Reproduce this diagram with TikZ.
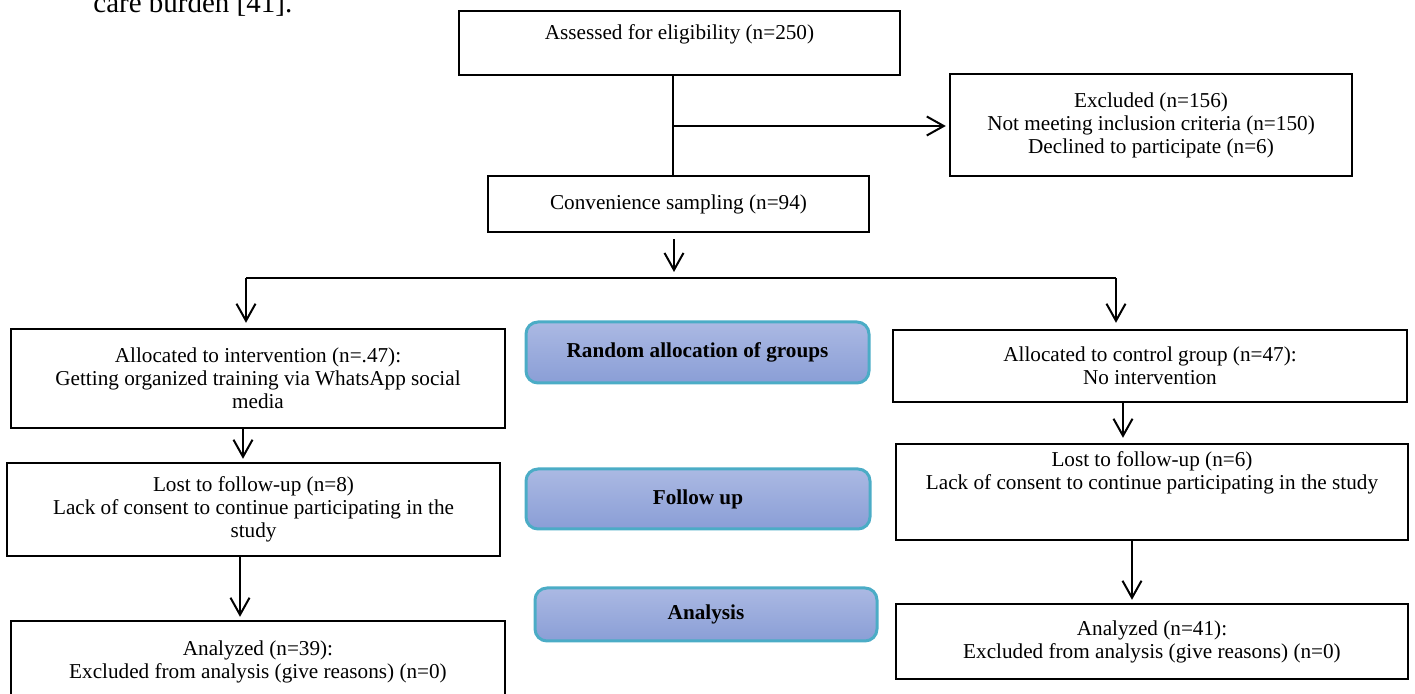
\documentclass[tikz,border=0pt]{standalone}
\usepackage{fontspec}
\setmainfont{Liberation Serif}
\usepackage{xcolor}
\definecolor{stagetop}{RGB}{171,185,227}
\definecolor{stagebottom}{RGB}{138,158,214}
\definecolor{stageedge}{RGB}{75,172,198}
\usetikzlibrary{arrows.meta, positioning}

\tikzset{
  box/.style={draw, line width=1.2pt, inner sep=0pt, align=center,
    font=\fontsize{10.6}{11.5}\selectfont},
  stagebox/.style={draw=stageedge, line width=1.5pt, rounded corners=6pt,
    top color=stagetop, bottom color=stagebottom, inner sep=0pt,
    font=\fontsize{10.6}{11.5}\selectfont\bfseries},
  link/.style={line width=1pt},
  flow/.style={line width=1pt, -{Straight Barb[length=8.5pt,width=9.5pt,line width=1pt]}}
}

\begin{document}
\begin{tikzpicture}[x=0.5pt, y=-0.5pt]
  \useasboundingbox (0,0) rectangle (1415,694);

  % Text of the page above the chart
  \node[anchor=base west, inner sep=0pt, font=\fontsize{14.5}{17}\selectfont] (pagetext) at (93,13) {care burden [41].};

  % Enrolment
  \node[box, minimum width=220.5pt, minimum height=32pt] (assess) at (679.5,43)
       {Assessed for eligibility (n=250)\\[-1pt]\mbox{}};
  \node[box, minimum width=201pt, minimum height=51pt] (excl) at (1151,125)
       {Excluded (n=156)\\Not meeting inclusion criteria (n=150)\\Declined to participate (n=6)};
  \node[box, minimum width=190.5pt, minimum height=28pt] (conv) at (678.5,204)
       {Convenience sampling (n=94)};

  % Stages
  \node[stagebox, minimum width=171.5pt, minimum height=30.5pt] (randalloc) at (697.5,352.5)
       {Random allocation of groups};
  \node[stagebox, minimum width=172pt, minimum height=30pt] (followup) at (698,499) {Follow up};
  \node[stagebox, minimum width=171pt, minimum height=26.5pt] (analysis) at (706,614.5) {Analysis};

  % Intervention arm
  \node[box, minimum width=247pt, minimum height=49.5pt] (intv) at (258,378.5)
       {Allocated to intervention (n=.47):\\Getting organized training via WhatsApp social\\media};
  \node[box, minimum width=246.5pt, minimum height=46.5pt] (lostI) at (253.5,509.5)
       {Lost to follow-up (n=8)\\Lack of consent to continue participating in the\\study};
  \node[box, minimum width=247pt, minimum height=40.5pt] (anaI) at (258,661.5)
       {Analyzed (n=39):\\Excluded from analysis (give reasons) (n=0)};

  % Control arm
  \node[box, minimum width=257pt, minimum height=36pt] (ctrl) at (1150,366)
       {Allocated to control group (n=47):\\No intervention};
  \node[box, minimum width=256pt, minimum height=48pt] (lostC) at (1152,492)
       {Lost to follow-up (n=6)\\Lack of consent to continue participating in the study\\[10pt]\mbox{}};
  \node[box, minimum width=256pt, minimum height=37.5pt] (anaC) at (1152,641.5)
       {Analyzed (n=41):\\Excluded from analysis (give reasons) (n=0)};

  % Connectors
  \coordinate (trunk) at (673,126);
  \coordinate (split) at (674,278);
  \coordinate (splitL) at (246,278);
  \coordinate (splitR) at (1116,278);
  \coordinate (colIa) at (243,0);
  \coordinate (colIb) at (240,0);
  \coordinate (colCa) at (1123,0);
  \coordinate (colCb) at (1132,0);

  \draw[link] (assess.south -| trunk) -- (conv.north -| trunk);
  \draw[flow] (trunk) -- ([xshift=-1.5pt]excl.west |- trunk);
  \draw[flow] ([yshift=-3pt]conv.south -| split) -- ([yshift=3pt]split);
  \draw[link] (splitL) -- (splitR);
  \draw[flow] (splitL) -- ([yshift=2.5pt]intv.north -| splitL);
  \draw[flow] (splitR) -- ([yshift=3pt]ctrl.north -| splitR);
  \draw[flow] (intv.south -| colIa) -- ([yshift=1.5pt]lostI.north -| colIa);
  \draw[flow] (lostI.south -| colIb) -- ([yshift=1.5pt]anaI.north -| colIb);
  \draw[flow] (ctrl.south -| colCa) -- ([yshift=2.5pt]lostC.north -| colCa);
  \draw[flow] (lostC.south -| colCb) -- ([yshift=1.5pt]anaC.north -| colCb);
\end{tikzpicture}
\end{document}
